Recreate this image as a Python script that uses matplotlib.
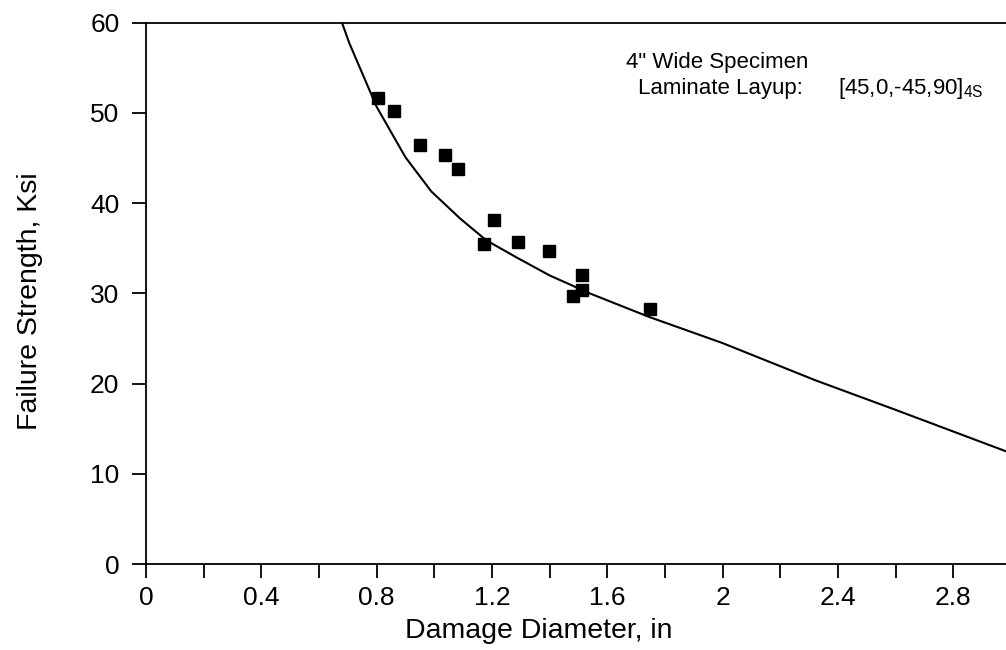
import matplotlib
matplotlib.use("Agg")
import matplotlib.pyplot as plt
from matplotlib.ticker import MultipleLocator

plt.rcParams['font.family'] = ['Liberation Sans', 'DejaVu Sans']

# test data (damage diameter in, failure strength ksi)
test_d = [0.806, 0.861, 0.949, 1.038, 1.081, 1.207, 1.172, 1.290, 1.398, 1.513, 1.513, 1.480, 1.748]
test_s = [51.7, 50.2, 46.4, 45.4, 43.8, 38.1, 35.5, 35.7, 34.7, 32.0, 30.4, 29.7, 28.3]

# prediction curve
curve_d = [0.68, 0.706, 0.80, 0.90, 0.99, 1.09, 1.18, 1.285, 1.40, 1.54, 1.745, 2.0, 2.32, 2.6, 3.0]
curve_s = [60.0, 57.7, 50.7, 45.1, 41.3, 38.3, 35.9, 34.0, 32.0, 30.0, 27.4, 24.5, 20.4, 17.1, 12.3]

xticks = [0, 0.4, 0.8, 1.2, 1.6, 2.0, 2.4, 2.8]
xtick_labels = ['0', '0.4', '0.8', '1.2', '1.6', '2', '2.4', '2.8']
yticks = [0, 10, 20, 30, 40, 50, 60]

fig = plt.figure(figsize=(10.06, 6.5), dpi=100)
ax = fig.add_axes([0.145, 0.132, 0.86, 0.833])

ax.plot(curve_d, curve_s, color='black', lw=1.5)
ax.plot(test_d, test_s, 's', color='black', ms=8, zorder=3)

ax.set_xlim(0, 3.0)
ax.set_ylim(0, 60)
ax.set_xticks(xticks)
ax.set_xticklabels(xtick_labels)
ax.xaxis.set_minor_locator(MultipleLocator(0.2))
ax.set_yticks(yticks)

ax.spines['right'].set_visible(False)
for s in ['left', 'bottom', 'top']:
    ax.spines[s].set_linewidth(1.3)

ax.tick_params(axis='both', which='both', direction='out', length=10, width=1.3,
               labelsize=19, top=False, right=False)
ax.tick_params(axis='x', pad=6)
ax.tick_params(axis='y', pad=9)

ax.set_xlabel('Damage Diameter, in', fontsize=20.5, va='center')
ax.xaxis.set_label_coords(0.454, -0.123)
ax.set_ylabel('Failure Strength, Ksi', fontsize=20.5, va='center')
ax.yaxis.set_label_coords(-0.134, 0.486)

ax.text(0.555, 0.927, '4" Wide Specimen', transform=ax.transAxes, fontsize=16,
        va='center', ha='left')
ax.text(0.569, 0.879, 'Laminate Layup:', transform=ax.transAxes, fontsize=16,
        va='center', ha='left')
ax.text(0.800, 0.879, r'[45,0,-45,90]$_{\mathregular{4S}}$', transform=ax.transAxes,
        fontsize=16, va='center', ha='left')

fig.savefig('out.png', dpi=100)
